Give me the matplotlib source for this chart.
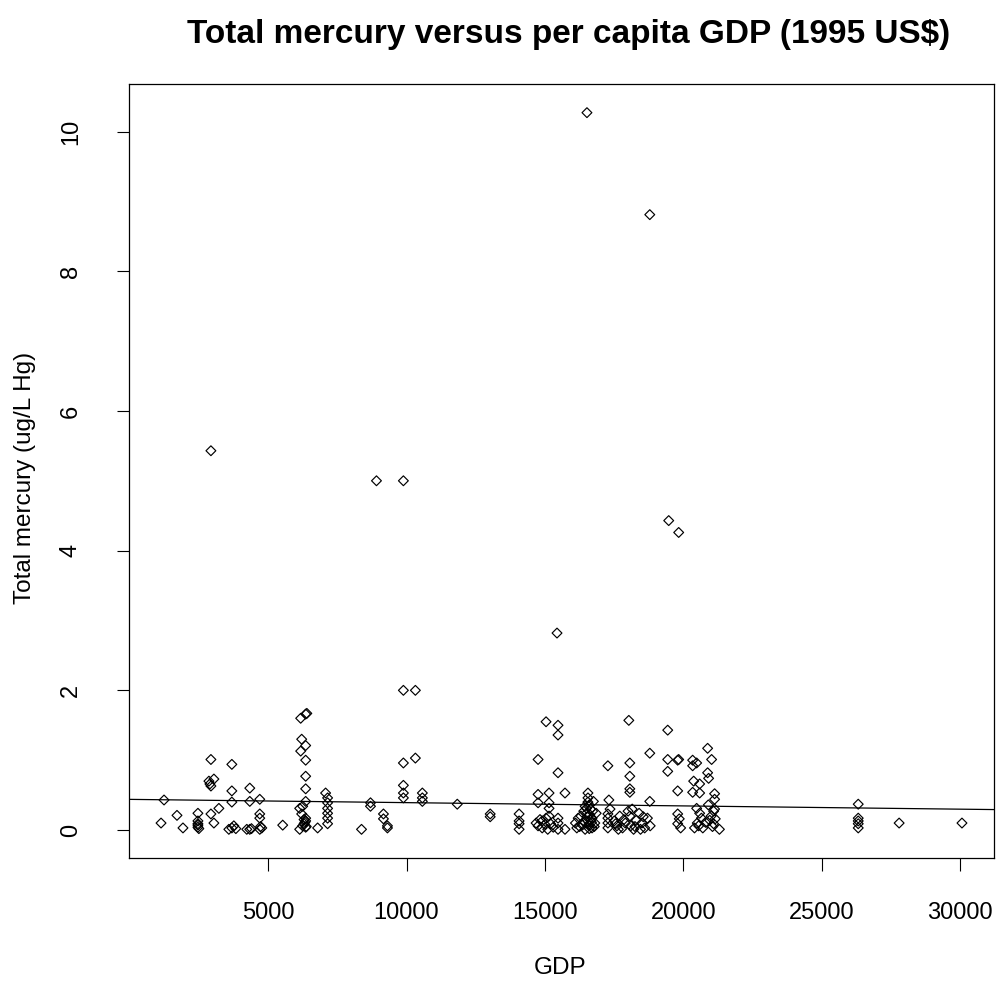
import matplotlib
matplotlib.use("Agg")
import matplotlib.pyplot as plt
import numpy as np

plt.rcParams['font.family'] = ['Liberation Sans', 'DejaVu Sans']

# GDP (1995 US$) and total mercury (ug/L Hg)
gdp = [
    1243, 1135, 1711, 1927, 2467, 2467, 2467, 2467, 2500, 2467,
    2936, 2936, 2900, 2864, 3044, 2936, 2936, 3224, 3044,
    3692, 3692, 3692, 3584, 3764, 3836, 3692,
    4340, 4340, 4232, 4340, 4400,
    4700, 4700, 4700, 4773, 4700, 4730, 5529,
    6178, 6358, 6400, 6214, 6358, 6178, 6358, 6358, 6358, 6358,
    6142, 6250, 6214, 6358, 6358, 6300, 6142, 6250, 6358, 6790,
    6330, 6380, 6300,
    7078, 7150, 7150, 7150, 7150, 7150, 7150,
    8375, 8699, 8699, 8915, 9167, 9167, 9311, 9311,
    9887, 9887, 10320, 9887, 10320, 9887, 9887, 9887, 10572, 10572, 10572,
    11833, 13022, 13022, 14066, 14066, 14066, 14066,
    14751, 15039, 15471, 15471, 15471, 15435,
    14751, 14751, 15147, 15147, 15147, 15723,
    14680, 14751, 14900, 15039, 15147, 15200, 15100, 15471, 15471, 15471, 15723, 14900,
    14820, 15300, 15000,
    16516, 16552, 16552,
    16100, 16200, 16150, 16300, 16400, 16450, 16500, 16550, 16600, 16650,
    16700, 16750, 16800, 16450, 16350, 16600, 16700, 16850, 16550, 16650,
    16250, 16400, 16520, 16580, 16620, 16680, 16720, 16780, 16500, 16600,
    17272, 17308, 17272, 17272, 17272, 17272, 17350,
    18028, 18064, 18064, 18064, 18064, 18785, 18785, 18785,
    17500, 17600, 17700, 17800, 17900, 18000, 18064, 18100, 18200, 18300,
    18400, 18500, 18600, 18700, 18800, 17650, 18150, 18450,
    17550, 17850, 18250, 18550,
    19433, 19469, 19829, 19433, 19433, 19793, 19829, 19793,
    20333, 20333, 20478, 20874, 21018, 20874, 20910, 20370, 20586, 20333,
    20586, 21126, 21126, 21126, 21090,
    19793, 19850, 19793, 19900,
    20478, 20586, 20650, 20500, 20400, 20700, 20900, 21000, 21090, 20800, 21300, 21050,
    20550, 20950, 21150,
    26313, 26313, 26313, 26313, 26313, 27790, 30059,
]
mercury = [
    0.43, 0.10, 0.21, 0.03, 0.24, 0.13, 0.09, 0.04, 0.02, 0.07,
    1.01, 5.43, 0.66, 0.70, 0.73, 0.63, 0.23, 0.31, 0.10,
    0.94, 0.56, 0.40, 0.01, 0.06, 0.02, 0.03,
    0.60, 0.41, 0.01, 0.01, 0.02,
    0.44, 0.23, 0.17, 0.03, 0.01, 0.05, 0.07,
    1.60, 1.66, 1.67, 1.30, 1.21, 1.13, 1.00, 0.77, 0.59, 0.41,
    0.31, 0.34, 0.23, 0.17, 0.13, 0.09, 0.01, 0.06, 0.04, 0.03,
    0.11, 0.05, 0.15,
    0.53, 0.46, 0.39, 0.31, 0.24, 0.17, 0.09,
    0.01, 0.39, 0.34, 5.00, 0.23, 0.16, 0.06, 0.03,
    5.00, 2.00, 2.00, 0.96, 1.03, 0.64, 0.53, 0.46, 0.53, 0.46, 0.41,
    0.37, 0.23, 0.19, 0.23, 0.13, 0.09, 0.01,
    1.01, 1.55, 1.50, 1.36, 0.82, 2.82,
    0.51, 0.39, 0.53, 0.39, 0.31, 0.53,
    0.10, 0.06, 0.13, 0.17, 0.20, 0.09, 0.01, 0.17, 0.10, 0.01, 0.01, 0.03,
    0.15, 0.04, 0.08,
    10.27, 0.53, 0.46,
    0.10, 0.17, 0.03, 0.20, 0.27, 0.34, 0.24, 0.13, 0.06, 0.30,
    0.17, 0.41, 0.10, 0.01, 0.07, 0.36, 0.03, 0.24, 0.40, 0.14,
    0.05, 0.12, 0.19, 0.08, 0.22, 0.11, 0.27, 0.05, 0.31, 0.02,
    0.92, 0.43, 0.23, 0.17, 0.03, 0.10, 0.30,
    1.57, 0.96, 0.77, 0.59, 0.54, 1.10, 8.81, 0.41,
    0.13, 0.06, 0.20, 0.03, 0.10, 0.27, 0.20, 0.06, 0.01, 0.14,
    0.24, 0.10, 0.03, 0.17, 0.06, 0.01, 0.30, 0.01,
    0.09, 0.15, 0.05, 0.19,
    1.43, 4.43, 4.26, 1.01, 0.84, 1.00, 1.01, 0.56,
    1.00, 0.92, 0.96, 1.17, 1.01, 0.82, 0.74, 0.70, 0.66, 0.54,
    0.53, 0.52, 0.44, 0.30, 0.27,
    0.23, 0.16, 0.09, 0.03,
    0.31, 0.24, 0.17, 0.10, 0.03, 0.03, 0.36, 0.20, 0.09, 0.11, 0.01, 0.05,
    0.06, 0.14, 0.16,
    0.37, 0.17, 0.13, 0.09, 0.03, 0.10, 0.10,
]

# fitted line
fit_intercept = 0.439
fit_slope = -4.68e-6

x_ticks = [5000, 10000, 15000, 20000, 25000, 30000]
y_ticks = [0, 2, 4, 6, 8, 10]

title = "Total mercury versus per capita GDP (1995 US$)"
xlabel = "GDP"
ylabel = "Total mercury (ug/L Hg)"

fig = plt.figure(figsize=(9.98, 9.81), dpi=100)
ax = fig.add_axes([129/998, 1-858/981, (994-129)/998, (858-84)/981])

ax.scatter(gdp, mercury, marker='D', s=5.0**2, facecolors='none',
           edgecolors='black', linewidths=0.85)
ax.margins(x=0.04, y=0.04)
ax.autoscale_view()
xl = ax.get_xlim()
xs = np.array(xl)
ax.plot(xs, fit_intercept + fit_slope*xs, color='black', lw=0.9)
ax.set_xlim(xl)

ax.set_xticks(x_ticks)
ax.set_yticks(y_ticks)
ax.set_xticklabels([str(v) for v in x_ticks])
ax.set_yticklabels([str(v) for v in y_ticks], rotation=90, va='center')
ax.tick_params(direction='out', length=9, width=0.8, labelsize=17, pad=23,
               colors='black')
ax.tick_params(axis='y', pad=25)
for sp in ax.spines.values():
    sp.set_linewidth(0.9)

fig.text(560/998, 1-968/981, xlabel, ha='center', va='center', fontsize=17.5)
fig.text(25/998, 1-478/981, ylabel, ha='center', va='center', fontsize=17.5,
         rotation=90)
fig.text(569/998, 1-35/981, title, ha='center', va='center', fontsize=24,
         fontweight='bold')

fig.savefig("out.png", dpi=100, facecolor='white')
